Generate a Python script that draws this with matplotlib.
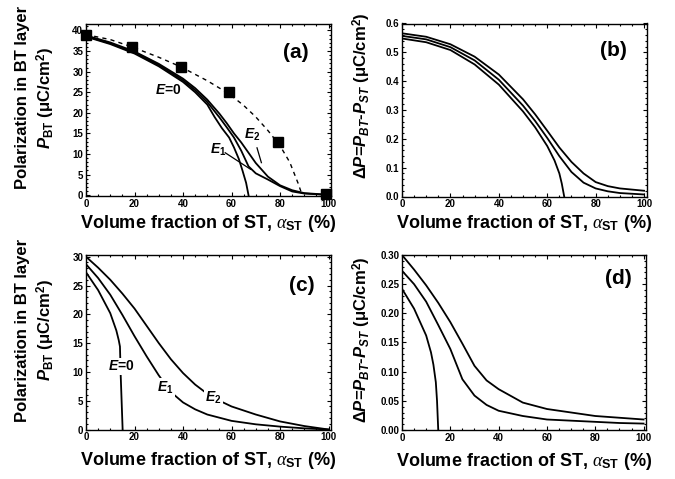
import matplotlib
matplotlib.use('Agg')
import matplotlib.pyplot as plt
from matplotlib.ticker import MultipleLocator

plt.rcParams['font.family'] = ['Liberation Sans', 'DejaVu Sans']
plt.rcParams['font.weight'] = 'bold'
plt.rcParams['axes.labelweight'] = 'bold'
plt.rcParams['mathtext.fontset'] = 'custom'
plt.rcParams['mathtext.rm'] = 'Liberation Sans:bold'
plt.rcParams['mathtext.bf'] = 'Liberation Sans:bold'
plt.rcParams['mathtext.sf'] = 'Liberation Sans:bold'
plt.rcParams['mathtext.it'] = 'Liberation Serif:style=italic:weight=normal'
plt.rcParams['mathtext.bfit'] = 'Liberation Sans:italic:bold'

# ---- panel (a): P_BT vs ST fraction ----
a_x0 = [0, 10, 20, 30, 40, 45, 50, 53, 56, 59, 61, 63, 64.5, 66, 67]
a_y0 = [38.5, 36.7, 34.4, 31.3, 27.5, 25.0, 22.0, 19.0, 16.3, 14.0, 11.6, 8.8, 6.0, 3.0, 0]
a_x1 = [0, 10, 20, 30, 40, 45, 50, 55, 58, 61, 64, 67, 70, 75, 80, 85, 90, 100]
a_y1 = [38.6, 36.9, 34.6, 31.6, 27.9, 25.5, 22.6, 18.9, 16.5, 14.0, 10.8, 7.0, 5.3, 3.8, 2.2, 0.9, 0.4, 0.05]
a_x2 = [0, 10, 20, 30, 40, 45, 50, 55, 58, 61, 64, 67, 70, 75, 80, 85, 90, 100]
a_y2 = [38.8, 37.1, 34.9, 31.9, 28.3, 26.0, 23.2, 19.8, 17.5, 15.0, 12.8, 10.3, 7.8, 4.5, 2.4, 1.2, 0.5, 0.1]
exp_x = [0, 19, 39, 59, 79, 99]
exp_y = [39, 36, 31.2, 25, 13, 0.3]
fit_x = [0, 10, 19, 30, 39, 50, 59, 65, 70, 75, 80, 84, 87.5, 89]
fit_y = [39, 37.8, 36, 33.5, 31.2, 27.8, 24.6, 21.8, 19.0, 15.7, 12.0, 8.0, 2.8, 0.2]

# ---- panel (b): delta P ----
b_x0 = [0, 10, 20, 30, 40, 50, 55, 60, 63, 65, 66, 67]
b_y0 = [0.548, 0.535, 0.508, 0.458, 0.388, 0.295, 0.24, 0.175, 0.125, 0.08, 0.045, 0.0]
b_x1 = [0, 10, 20, 30, 40, 50, 55, 60, 65, 70, 75, 80, 85, 90, 100]
b_y1 = [0.557, 0.545, 0.518, 0.472, 0.405, 0.315, 0.262, 0.203, 0.14, 0.085, 0.048, 0.028, 0.018, 0.012, 0.007]
b_x2 = [0, 10, 20, 30, 40, 50, 55, 60, 65, 70, 75, 80, 85, 90, 95, 100]
b_y2 = [0.566, 0.554, 0.528, 0.485, 0.423, 0.337, 0.285, 0.228, 0.17, 0.12, 0.08, 0.05, 0.036, 0.028, 0.024, 0.02]

# ---- panel (c) ----
c_x0 = [0, 5, 10, 12.5, 13.5, 14, 14.3, 15.1]
c_y0 = [27.3, 24.2, 20.2, 17.2, 15.5, 14.4, 9.5, 0]
c_x1 = [0, 5, 10, 15, 20, 25, 30, 35, 40, 45, 50, 60, 70, 80, 90, 100]
c_y1 = [28.7, 26.3, 23.4, 19.9, 16.2, 12.7, 9.4, 6.5, 4.7, 3.5, 2.6, 1.5, 0.9, 0.5, 0.2, 0]
c_x2 = [0, 5, 10, 15, 20, 25, 30, 35, 40, 45, 50, 55, 60, 70, 80, 90, 100]
c_y2 = [30, 28.1, 26, 23.6, 21, 18, 15, 12.2, 9.8, 7.8, 6.2, 5.0, 4.0, 2.6, 1.4, 0.6, 0]

# ---- panel (d) ----
d_x0 = [0, 5, 10, 12, 13, 14, 14.5, 15]
d_y0 = [0.242, 0.208, 0.162, 0.133, 0.112, 0.082, 0.05, 0]
d_x1 = [0, 5, 10, 15, 20, 25, 30, 35, 40, 50, 60, 70, 80, 90, 100]
d_y1 = [0.273, 0.25, 0.22, 0.18, 0.139, 0.087, 0.059, 0.043, 0.033, 0.024, 0.018, 0.016, 0.014, 0.012, 0.011]
d_x2 = [0, 5, 10, 15, 20, 25, 30, 35, 40, 50, 60, 70, 80, 90, 100]
d_y2 = [0.30, 0.275, 0.248, 0.218, 0.185, 0.148, 0.11, 0.085, 0.07, 0.047, 0.036, 0.03, 0.024, 0.021, 0.018]

xlabel = r'Volume fraction of ST, $\mathit{\alpha}_{\mathbf{ST}}$ (%)'
ylab_p = 'Polarization in BT layer\n' + r'$\mathbfit{P}_{\mathbf{BT}}$ (μC/cm$^{\mathbf{2}}$)'
ylab_d = (r'Δ$\mathbfit{P}$=$\mathbfit{P}_{\mathbfit{BT}}$-$\mathbfit{P}_{\mathbfit{ST}}$'
          r' (μC/cm$^{\mathbf{2}}$)')

fig = plt.figure(figsize=(6.75, 4.79), dpi=100)
W, H = 675, 479


def make_ax(l, t, r, b):
    return fig.add_axes([l / W, 1 - b / H, (r - l) / W, (b - t) / H])


ax_a = make_ax(86, 23.5, 331, 196)
ax_b = make_ax(402, 23.5, 646.5, 196.5)
ax_c = make_ax(86, 255, 331, 429.5)
ax_d = make_ax(402, 255, 646, 430)

lw = 1.3
ax_a.plot(a_x0, a_y0, 'k-', lw=lw)
ax_a.plot(a_x1, a_y1, 'k-', lw=lw)
ax_a.plot(a_x2, a_y2, 'k-', lw=lw)
ax_a.plot(fit_x, fit_y, 'k--', lw=1.0, dashes=(3, 3))
ax_a.plot(exp_x, exp_y, 'ks', ms=6.5, clip_on=False)
ax_a.text(34, 25.5, r'$\mathbfit{E}$=0', fontsize=10, ha='center', va='center')
ax_a.text(54.7, 10.9, r'$\mathbfit{E}_{\mathbf{1}}$', fontsize=10, ha='center', va='center')
ax_a.text(68.5, 14.6, r'$\mathbfit{E}_{\mathbf{2}}$', fontsize=10, ha='center', va='center')
ax_a.plot([57.4, 67.8], [10.3, 6.3], 'k-', lw=0.9)
ax_a.plot([70.5, 72.3], [11.5, 7.9], 'k-', lw=0.9)

ax_b.plot(b_x0, b_y0, 'k-', lw=lw)
ax_b.plot(b_x1, b_y1, 'k-', lw=lw)
ax_b.plot(b_x2, b_y2, 'k-', lw=lw)

ax_c.plot(c_x0, c_y0, 'k-', lw=lw)
ax_c.plot(c_x1, c_y1, 'k-', lw=lw)
ax_c.plot(c_x2, c_y2, 'k-', lw=lw)
wbox = dict(boxstyle='square,pad=0.1', fc='white', ec='none')
ax_c.text(14.7, 11, r'$\mathbfit{E}$=0', fontsize=10, ha='center', va='center', bbox=wbox)
ax_c.text(32.6, 7.3, r'$\mathbfit{E}_{\mathbf{1}}$', fontsize=10, ha='center', va='center', bbox=wbox)
ax_c.text(52.5, 5.5, r'$\mathbfit{E}_{\mathbf{2}}$', fontsize=10, ha='center', va='center', bbox=wbox)

ax_d.plot(d_x0, d_y0, 'k-', lw=lw)
ax_d.plot(d_x1, d_y1, 'k-', lw=lw)
ax_d.plot(d_x2, d_y2, 'k-', lw=lw)

ax_a.set_ylim(-0.2, 41.7)
ax_a.yaxis.set_major_locator(MultipleLocator(5))
ax_a.yaxis.set_minor_locator(MultipleLocator(1))
ax_b.set_ylim(0, 0.6)
ax_b.yaxis.set_major_locator(MultipleLocator(0.1))
ax_b.yaxis.set_minor_locator(MultipleLocator(0.02))
ax_c.set_ylim(0, 30.3)
ax_c.yaxis.set_major_locator(MultipleLocator(5))
ax_c.yaxis.set_minor_locator(MultipleLocator(1))
ax_d.set_ylim(0, 0.30)
ax_d.yaxis.set_major_locator(MultipleLocator(0.05))
ax_d.yaxis.set_minor_locator(MultipleLocator(0.01))

panels = [(ax_a, '(a)', 0.857, 0.834, ylab_p, 0.57, -0.097),
          (ax_b, '(b)', 0.863, 0.846, ylab_d, 0.585, -0.097),
          (ax_c, '(c)', 0.88, 0.828, ylab_p, 0.57, -0.12),
          (ax_d, '(d)', 0.885, 0.863, ylab_d, 0.515, -0.12)]
for ax, tag, tx, ty, ylab, ly, lx in panels:
    ax.set_xlim(0, 101)
    ax.xaxis.set_major_locator(MultipleLocator(20))
    ax.xaxis.set_minor_locator(MultipleLocator(5))
    ax.tick_params(which='both', direction='in', top=True, right=True,
                   labelsize=7, pad=2, width=0.8)
    ax.tick_params(which='major', length=3)
    ax.tick_params(which='minor', length=1.6)
    for s in ax.spines.values():
        s.set_linewidth(1.0)
    ax.text(tx, ty, tag, transform=ax.transAxes, fontsize=15,
            ha='center', va='center')
    ax.set_xlabel(xlabel, fontsize=13)
    ax.xaxis.set_label_coords(0.5, lx)
    ax.xaxis.label.set_va('top')
    ax.set_ylabel(ylab, fontsize=12, linespacing=1.3)
    ax.yaxis.set_label_coords(-0.118, ly)

fig.savefig('out.png', dpi=100)
